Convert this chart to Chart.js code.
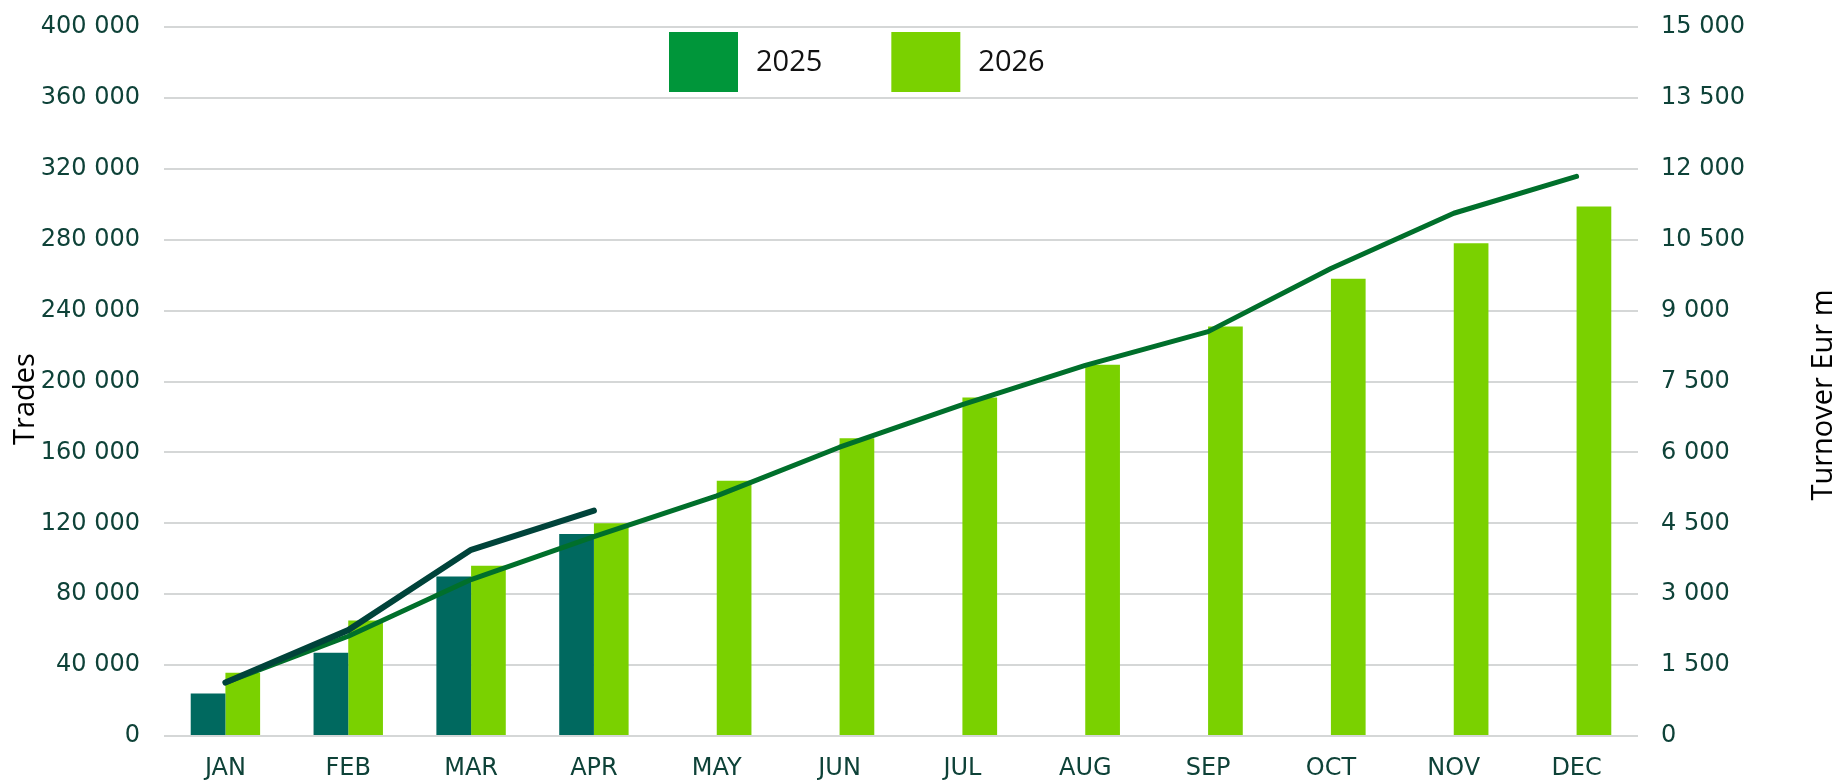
<!DOCTYPE html>
<html>
<head>
<meta charset="utf-8">
<script src="https://cdn.jsdelivr.net/npm/chart.js@4.4.1/dist/chart.umd.min.js"></script>
<style>
  html, body { margin: 0; padding: 0; background: #fff; }
  #wrap { position: relative; width: 1838px; height: 781px; }
</style>
</head>
<body>
<div id="wrap"><canvas id="tradesChart"></canvas></div>
<script>
// chart values
const months = ['JAN', 'FEB', 'MAR', 'APR', 'MAY', 'JUN', 'JUL', 'AUG', 'SEP', 'OCT', 'NOV', 'DEC'];
const tradesYtd = [24000, 47000, 90000, 114000, null, null, null, null, null, null, null, null];
const tradesFull = [35700, 65200, 96100, 120000, 144000, 168000, 191000, 209500, 231000, 258000, 278000, 298700];
const turnoverYtd = [1130, 2240, 3940, 4770, null, null, null, null, null, null, null, null];
const turnoverFull = [1130, 2110, 3310, 4220, 5080, 6110, 7010, 7840, 8555, 9890, 11060, 11840];
const legendLabels = ['2025', '2026'];
const legendColors = ['#00963a', '#7ad100'];
const leftTitle = 'Trades';
const rightTitle = 'Turnover Eur m';

const tickColor = '#0e4238';
const tickFont = { family: 'Verdana, "DejaVu Sans"', size: 24 };
const gridColor = '#d5d7d7';
const titleFont = '29px "Open Sans"';

function spaced(v) {
    return String(v).replace(/\B(?=(\d{3})+(?!\d))/g, ' ');
}

// legend sits inside the plot, Excel style
const legendOverlay = {
    id: 'legendOverlay',
    afterDraw(chart) {
        const ctx = chart.ctx;
        ctx.save();
        ctx.font = '29px "Open Sans"';
        ctx.textBaseline = 'middle';
        let x = 669;
        legendLabels.forEach((label, i) => {
            ctx.fillStyle = legendColors[i];
            ctx.fillRect(x, 32, 69, 60);
            ctx.fillStyle = '#111';
            ctx.fillText(label, x + 87, 63);
            x += 87 + ctx.measureText(label).width + 69;
        });
        ctx.restore();
    }
};

// both axis titles read bottom-to-top, a bit below the plot middle
const axisTitles = {
    id: 'axisTitles',
    afterDraw(chart) {
        const ctx = chart.ctx;
        const drawTitle = (text, x, y) => {
            ctx.save();
            ctx.translate(x, y);
            ctx.rotate(-Math.PI / 2);
            ctx.font = titleFont;
            ctx.fillStyle = '#000';
            ctx.textAlign = 'center';
            ctx.textBaseline = 'middle';
            ctx.fillText(text, 0, 0);
            ctx.restore();
        };
        drawTitle(leftTitle, 26, 399);
        drawTitle(rightTitle, 1824, 395);
    }
};

function fixWidth(w) {
    return (scale) => {
        scale.width = w;
        scale.paddingTop = 0;
        scale.paddingBottom = 0;
    };
}

const ctx = document.getElementById('tradesChart').getContext('2d');

new Chart(ctx, {
    data: {
        labels: months,
        datasets: [
            {
                type: 'bar',
                label: 'Trades YTD',
                data: tradesYtd,
                backgroundColor: '#00695f',
                categoryPercentage: 0.565,
                barPercentage: 1.0,
                yAxisID: 'y',
                order: 3
            },
            {
                type: 'bar',
                label: 'Trades',
                data: tradesFull,
                backgroundColor: '#7ad100',
                categoryPercentage: 0.565,
                barPercentage: 1.0,
                yAxisID: 'y',
                order: 3
            },
            {
                type: 'line',
                label: 'Turnover YTD',
                data: turnoverYtd,
                borderColor: '#00433a',
                borderWidth: 6,
                borderCapStyle: 'round',
                borderJoinStyle: 'round',
                pointRadius: 0,
                tension: 0,
                yAxisID: 'y1',
                order: 0
            },
            {
                type: 'line',
                label: 'Turnover',
                data: turnoverFull,
                borderColor: '#006f2b',
                borderWidth: 5,
                borderCapStyle: 'round',
                borderJoinStyle: 'round',
                pointRadius: 0,
                tension: 0,
                yAxisID: 'y1',
                order: 1
            }
        ]
    },
    options: {
        responsive: true,
        maintainAspectRatio: false,
        animation: false,
        layout: { padding: { top: 27, left: 0, right: 0, bottom: 0 } },
        plugins: {
            legend: { display: false },
            tooltip: { enabled: false }
        },
        scales: {
            x: {
                grid: { display: false, drawTicks: false },
                border: { display: false },
                ticks: { color: tickColor, font: tickFont, padding: 18, maxRotation: 0, autoSkip: false },
                afterFit: (scale) => {
                    scale.height = 45;
                    scale.paddingLeft = 0;
                    scale.paddingRight = 0;
                }
            },
            y: {
                position: 'left',
                min: 0,
                max: 400000,
                grid: { color: gridColor, lineWidth: 2, drawTicks: false },
                border: { display: false },
                ticks: {
                    stepSize: 40000,
                    color: tickColor,
                    font: tickFont,
                    padding: 24,
                    callback: (v) => spaced(v)
                },
                afterFit: fixWidth(164)
            },
            y1: {
                position: 'right',
                min: 0,
                max: 15000,
                grid: { display: false, drawTicks: false },
                border: { display: false },
                ticks: {
                    stepSize: 1500,
                    color: tickColor,
                    font: tickFont,
                    padding: 23,
                    callback: (v) => spaced(v)
                },
                afterFit: fixWidth(200)
            }
        }
    },
    plugins: [legendOverlay, axisTitles]
});
</script>
</body>
</html>
